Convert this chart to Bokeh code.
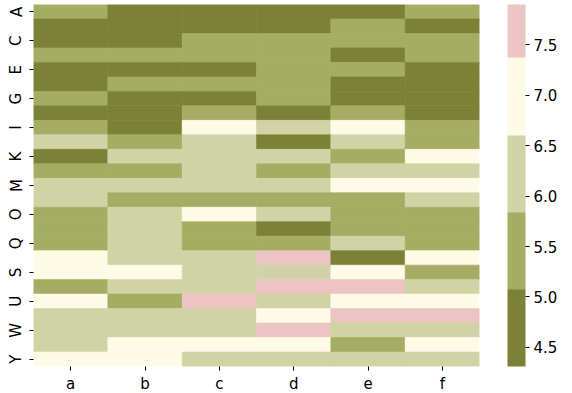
from bokeh.plotting import figure
from bokeh.models import (LinearColorMapper, ColorBar, FixedTicker, Range1d,
                          ColumnDataSource, PrintfTickFormatter)
from bokeh.transform import transform
from bokeh.embed import file_html
from bokeh.resources import INLINE

rows = list("ABCDEFGHIJKLMNOPQRSTUVWXY")
cols = list("abcdef")

# values per row (columns a..f)
A = [5.31, 4.62, 4.55, 4.48, 4.71, 5.22]
B = [4.52, 4.80, 4.31, 4.66, 5.18, 4.93]
C = [4.77, 4.95, 5.27, 5.40, 5.35, 5.58]
D = [5.44, 5.36, 5.52, 5.61, 4.89, 5.47]
E = [4.85, 4.74, 5.02, 5.69, 5.55, 4.82]
F = [4.98, 5.29, 5.63, 5.72, 4.91, 4.76]
G = [5.50, 4.87, 4.93, 5.48, 4.69, 4.58]
H = [5.01, 4.99, 5.75, 4.94, 5.66, 4.88]
I = [5.58, 4.90, 6.86, 6.21, 6.93, 5.71]
J = [6.05, 5.41, 6.30, 4.97, 6.12, 5.64]
K = [4.83, 6.14, 6.25, 6.08, 5.77, 6.79]
L = [5.47, 5.53, 6.38, 5.80, 6.27, 6.19]
M = [6.22, 6.10, 6.44, 6.35, 6.98, 7.05]
N = [6.33, 5.70, 5.59, 5.74, 5.62, 6.41]
O = [5.66, 6.28, 6.71, 6.47, 5.81, 5.76]
P = [5.78, 6.36, 5.68, 4.95, 5.73, 5.69]
Q = [5.62, 6.40, 5.81, 5.79, 6.15, 5.74]
R = [6.92, 6.45, 6.51, 7.62, 4.99, 6.81]
S = [7.10, 6.88, 6.55, 6.58, 7.02, 5.80]
T = [5.78, 6.50, 6.48, 7.45, 7.51, 6.56]
U = [6.97, 5.72, 7.77, 6.52, 7.21, 7.14]
V = [6.42, 6.53, 6.57, 7.16, 7.90, 7.58]
W = [6.47, 6.56, 6.59, 7.71, 6.46, 6.50]
X = [6.58, 7.08, 7.20, 7.30, 5.79, 7.25]
Y = [7.05, 7.18, 6.54, 6.49, 6.43, 6.53]

table = [A, B, C, D, E, F, G, H, I, J, K, L, M, N, O, P, Q, R, S, T, U, V, W, X, Y]

cbar_ticks = [4.5, 5.0, 5.5, 6.0, 6.5, 7.0, 7.5]
colors = ["#7b8136", "#a3ad63", "#d0d4a4", "#fdfbe6", "#ecc4c1"]

xs, ys, vs = [], [], []
for ri, (r, vals) in enumerate(zip(rows, table)):
    for c, v in zip(cols, vals):
        xs.append(c)
        ys.append(ri + 0.5)
        vs.append(v)
src = ColumnDataSource(dict(x=xs, y=ys, v=vs))

vmin = min(vs)
vmax = max(vs)
bin_w = 0.765  # width of one colour class
step = 0.005
n = int(round((vmax - vmin) / step))
fine_palette = [colors[min(len(colors) - 1, int(((k + 0.5) * step) / bin_w))] for k in range(n)]
mapper = LinearColorMapper(palette=fine_palette, low=vmin, high=vmax)

FONT = "DejaVu Sans"
FS = "15px"

p = figure(x_range=cols, y_range=Range1d(len(rows), 0),
           frame_width=446, frame_height=362,
           output_backend="svg", toolbar_location=None,
           min_border_top=4, min_border_left=33, min_border_right=0, min_border_bottom=0)

p.rect(x="x", y="y", width=1, height=1, source=src,
       fill_color=transform("v", mapper), line_color=transform("v", mapper), line_width=0.6)

p.grid.visible = False
p.outline_line_color = None
p.background_fill_color = "white"

for ax in (p.xaxis[0], p.yaxis[0]):
    ax.axis_line_color = None
    ax.major_tick_in = 0
    ax.major_tick_out = 4
    ax.major_tick_line_color = "black"
    ax.minor_tick_line_color = None
    ax.major_label_text_font = FONT
    ax.major_label_text_font_size = FS
    ax.major_label_text_color = "black"
    ax.major_label_standoff = 4

yt = [i + 0.5 for i in range(0, len(rows), 2)]
p.yaxis[0].ticker = FixedTicker(ticks=yt)
p.yaxis[0].major_label_overrides = {i + 0.5: rows[i] for i in range(0, len(rows), 2)}
p.yaxis[0].major_label_orientation = "vertical"

cb = ColorBar(color_mapper=mapper, ticker=FixedTicker(ticks=cbar_ticks),
              formatter=PrintfTickFormatter(format="%.1f"),
              width=18, height=362, location=(28, 0),
              major_tick_in=0, major_tick_out=4, major_tick_line_color="black",
              minor_tick_line_color=None, bar_line_color=None,
              border_line_color=None, background_fill_color=None,
              padding=0, margin=0, label_standoff=4,
              major_label_text_font=FONT, major_label_text_font_size=FS,
              major_label_text_color="black")
p.add_layout(cb, "right")
p.min_border_right = 93

open("out.html", "w").write(file_html(p, INLINE))
